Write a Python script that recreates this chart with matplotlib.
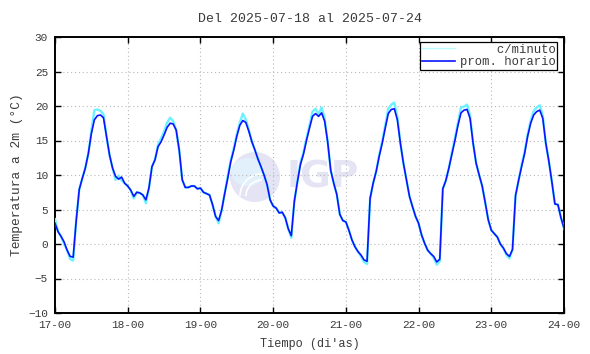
import matplotlib
matplotlib.use("Agg")
import matplotlib.pyplot as plt
from matplotlib.patches import Ellipse, Arc
import numpy as np

# hourly averages, one list per day (hour 0..23)
prom_17 = [3.0, 1.8, 1.1, 0.3, -0.9, -1.8, -1.9, 3.4, 7.9, 9.5, 11.0, 13.1, 16.0, 18.0, 18.6, 18.7, 18.3, 15.6, 12.9, 11.0, 9.8, 9.4, 9.7, 8.8]
prom_18 = [8.4, 7.8, 6.9, 7.5, 7.4, 7.1, 6.4, 8.1, 11.2, 12.2, 14.1, 14.8, 15.8, 16.9, 17.5, 17.4, 16.5, 13.6, 9.3, 8.2, 8.2, 8.4, 8.4, 8.0]
prom_19 = [8.1, 7.5, 7.3, 7.1, 5.7, 4.0, 3.4, 4.9, 7.3, 9.5, 11.9, 13.6, 15.6, 17.2, 17.9, 17.6, 16.3, 14.8, 13.6, 12.3, 11.2, 10.0, 8.6, 6.4]
prom_20 = [5.5, 5.2, 4.5, 4.6, 3.8, 2.2, 1.2, 6.2, 9.0, 11.5, 13.0, 15.0, 16.8, 18.5, 18.9, 18.5, 19.0, 17.8, 14.8, 10.7, 8.8, 7.2, 4.3, 3.4]
prom_21 = [3.2, 2.0, 0.6, -0.4, -1.1, -1.6, -2.3, -2.5, 6.6, 8.8, 10.5, 12.7, 14.6, 16.8, 18.9, 19.5, 19.6, 18.0, 14.6, 11.7, 9.3, 6.9, 5.4, 4.0]
prom_22 = [3.0, 1.3, 0.1, -0.9, -1.4, -1.8, -2.6, -2.2, 8.0, 9.2, 11.0, 13.0, 15.0, 17.2, 19.0, 19.4, 19.5, 18.2, 14.6, 11.7, 10.0, 8.4, 6.0, 3.5]
prom_23 = [2.0, 1.5, 1.0, 0.0, -0.6, -1.4, -1.8, -0.8, 7.0, 9.2, 11.2, 13.1, 15.6, 17.5, 18.7, 19.2, 19.4, 18.2, 14.6, 12.0, 9.0, 5.8, 5.7, 3.8]
prom_24 = [2.3]

# per-minute readings (envelope as visible on the chart, hourly steps)
min_17 = [3.6, 1.8, 1.1, 0.0, -0.9, -2.2, -2.4, 3.4, 7.9, 9.5, 11.0, 13.1, 16.4, 19.4, 19.5, 19.3, 18.8, 15.6, 12.9, 11.0, 9.3, 9.9, 9.2, 8.8]
min_18 = [8.4, 7.8, 6.6, 7.5, 7.4, 7.1, 5.9, 8.1, 11.2, 12.2, 14.4, 15.3, 16.3, 17.6, 18.3, 17.8, 16.5, 13.6, 9.3, 8.2, 8.2, 8.4, 8.4, 8.0]
min_19 = [8.1, 7.5, 7.3, 7.1, 5.7, 4.0, 3.0, 4.9, 7.3, 9.8, 12.1, 13.9, 15.9, 17.6, 18.9, 18.0, 16.5, 14.8, 13.6, 12.3, 11.2, 10.0, 8.6, 6.4]
min_20 = [5.5, 5.2, 4.5, 4.6, 3.8, 2.2, 0.9, 6.2, 9.0, 11.8, 13.3, 15.3, 17.2, 19.2, 19.6, 18.8, 19.8, 18.2, 14.8, 10.7, 8.8, 7.2, 4.3, 3.4]
min_21 = [3.2, 2.0, 0.6, -0.4, -1.1, -1.8, -2.6, -2.9, 6.6, 8.8, 10.5, 12.9, 14.9, 17.2, 19.6, 20.2, 20.5, 18.4, 14.6, 11.7, 9.3, 6.9, 5.4, 4.0]
min_22 = [3.0, 1.3, 0.1, -0.9, -1.4, -2.0, -3.0, -2.5, 8.0, 9.2, 11.0, 13.3, 15.3, 17.6, 19.8, 19.9, 20.2, 18.6, 14.6, 11.7, 10.0, 8.4, 6.0, 3.5]
min_23 = [2.0, 1.5, 1.0, 0.0, -0.6, -1.6, -2.1, -0.8, 7.0, 9.2, 11.5, 13.4, 15.9, 17.9, 19.3, 19.8, 20.1, 18.6, 14.6, 12.0, 9.0, 5.8, 5.7, 3.8]
min_24 = [2.3]

dias = [17, 18, 19, 20, 21, 22, 23, 24]
tick_labels = ["%d-00" % d for d in dias]

prom = np.array(prom_17 + prom_18 + prom_19 + prom_20 + prom_21 + prom_22 + prom_23 + prom_24)
minuto = np.array(min_17 + min_18 + min_19 + min_20 + min_21 + min_22 + min_23 + min_24)
t = 17 + np.arange(len(prom)) / 24.0

txt_color = "#3a3a3a"
plt.rcParams['font.family'] = ['Liberation Mono', 'DejaVu Sans Mono']

fig = plt.figure(figsize=(5.9, 3.54), dpi=100)
ax = fig.add_axes([55/590, 1-313/354, (564-55)/590, (313-37)/354])

# IGP watermark (inside the axes, under the curves)
wm_col = "#e4e4f4"
ax.add_patch(Ellipse((255/590, 1-177/354), 50/590, 50/354, transform=fig.transFigure,
                     facecolor=wm_col, edgecolor="none", zorder=1))
ax.add_patch(Ellipse((248/590, 1-172/354), 34/590, 28/354, transform=fig.transFigure,
                     facecolor="#e2f0fc", edgecolor="none", zorder=1))
for r in (16, 22):
    ax.add_patch(Arc((262/590, 1-196/354), 2*r/590, 2*r/354, theta1=90, theta2=180,
                     transform=fig.transFigure, color="white", lw=1.2, zorder=1))
ax.text(323/590, 1-177/354, "IGP", fontsize=27, fontweight="bold", family="DejaVu Sans",
        color=wm_col, ha="center", va="center", zorder=1, transform=fig.transFigure)

ax.plot(t, minuto, color="#6cf2ff", lw=1.7, label="     c/minuto", zorder=3)
ax.plot(t, prom, color="#0a14ff", lw=1.2, label="prom. horario", zorder=4)

ax.set_xlim(17, 24)
ax.set_ylim(-10, 30)
ax.set_xticks(dias)
ax.set_xticklabels(tick_labels)
ax.set_yticks(np.arange(-10, 31, 5))
ax.tick_params(direction="in", length=4, width=1, top=True, right=True,
               labelsize=8, colors="black", labelcolor=txt_color, pad=5)
ax.grid(True, color="#b8b8b8", lw=0.8, linestyle=(0, (1, 2.5)))
for s in ax.spines.values():
    s.set_linewidth(1.4)

ax.set_title("Del 2025-07-18 al 2025-07-24", fontsize=9.5, color=txt_color, pad=11)
ax.set_xlabel("Tiempo (di'as)", fontsize=8.6, color=txt_color, labelpad=6)
ax.set_ylabel("Temperatura a 2m (°C)", fontsize=9.3, color=txt_color, labelpad=4)

leg = ax.legend(loc="upper right", bbox_to_anchor=(0.987, 0.983), borderaxespad=0,
                fontsize=8.8, handlelength=2.7, labelspacing=0.05, borderpad=0.15,
                handletextpad=0.4, fancybox=False, framealpha=1, edgecolor="black")
leg.get_frame().set_linewidth(0.9)
leg.get_lines()[0].set_color("#b8fbff")
leg.get_lines()[0].set_linewidth(1.0)
for tx in leg.get_texts():
    tx.set_color(txt_color)

fig.savefig("out.png", dpi=100)
